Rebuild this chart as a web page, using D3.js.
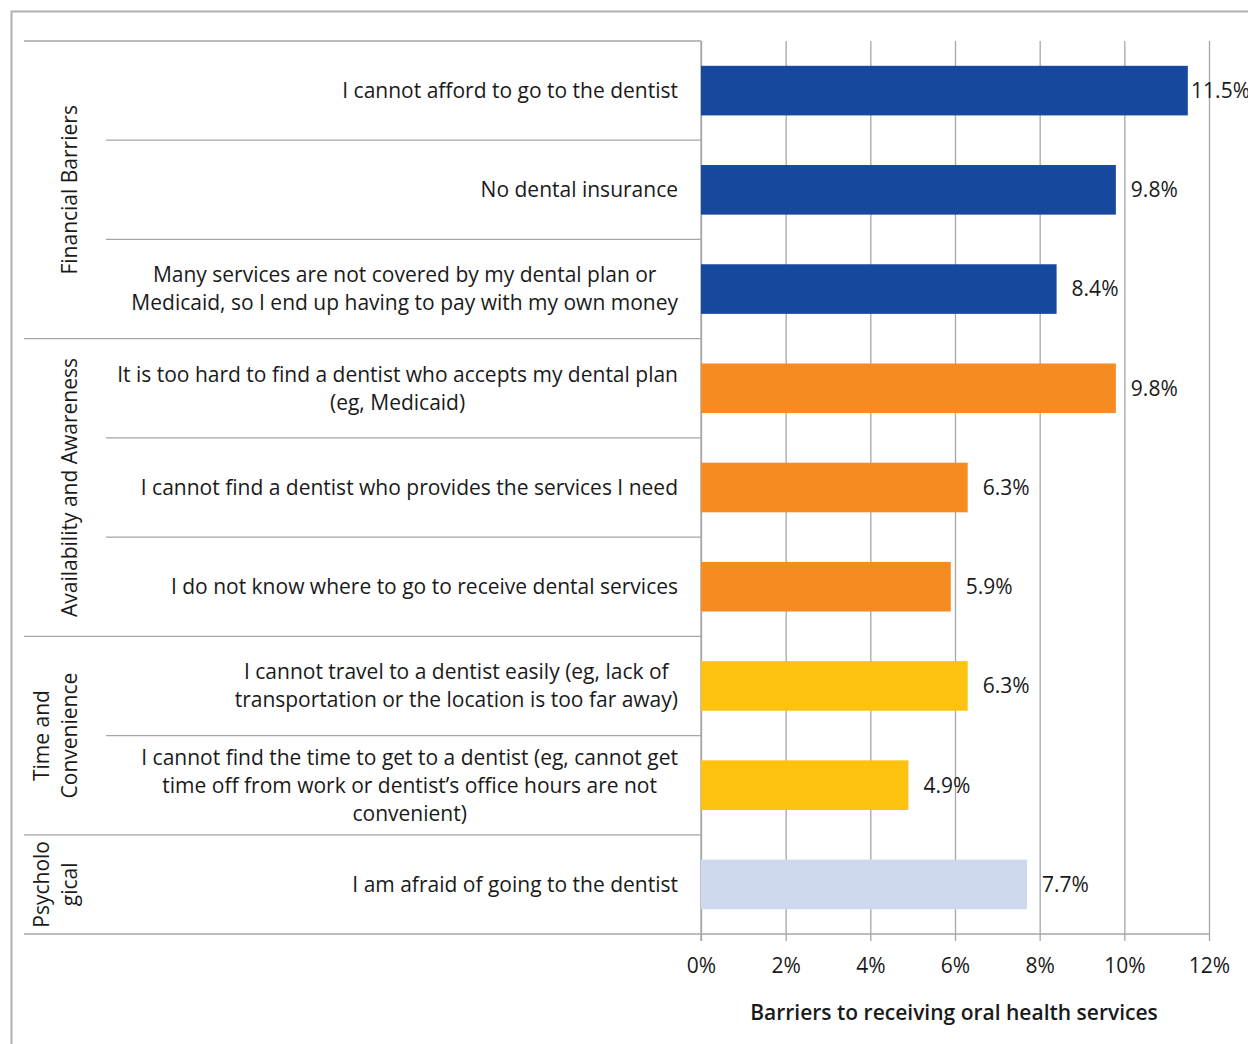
<!DOCTYPE html>
<html>
<head>
<meta charset="utf-8">
<script src="https://cdn.jsdelivr.net/npm/d3@7"></script>
<style>
  body { margin: 0; background: #fff; }
  text { font-family: "Open Sans", sans-serif; fill: #1a1a1a; }
</style>
</head>
<body>
<script>
// categories, one entry per bar ("|" marks a line break in the label)
var categories = [
  'I cannot afford to go to the dentist',
  'No dental insurance',
  'Many services are not covered by my dental plan or|Medicaid, so I end up having to pay with my own money',
  'It is too hard to find a dentist who accepts my dental plan|(eg, Medicaid)',
  'I cannot find a dentist who provides the services I need',
  'I do not know where to go to receive dental services',
  'I cannot travel to a dentist easily (eg, lack of|transportation or the location is too far away)',
  'I cannot find the time to get to a dentist (eg, cannot get|time off from work or dentist\u2019s office hours are not|convenient)',
  'I am afraid of going to the dentist'
];
var values = [11.5, 9.8, 8.4, 9.8, 6.3, 5.9, 6.3, 4.9, 7.7];
var groupOf = [0, 0, 0, 1, 1, 1, 2, 2, 3];
var groups = ['Financial Barriers', 'Availability and Awareness', 'Time and|Convenience', 'Psycholo|gical'];
var groupColors = ['#16499d', '#f68b22', '#fdc310', '#cfd9ed'];
var xTicks = [0, 2, 4, 6, 8, 10, 12];
var xTitle = 'Barriers to receiving oral health services';

var W = 1248, H = 1044;
var plotTop = 41, plotBottom = 934, x0 = 701, x1 = 1209;
var grid = '#a6a6a6';
var fs = 21;

var svg = d3.select('body').append('svg').attr('width', W).attr('height', H);

// outer frame
svg.append('path').attr('d', 'M11.5,' + H + 'V11.5H' + W).attr('fill', 'none').attr('stroke', '#b0b0b0').attr('stroke-width', 2);

var x = d3.scaleLinear().domain([0, 12]).range([x0, x1]);
var y = d3.scaleBand().domain(d3.range(categories.length)).range([plotTop, plotBottom]).paddingInner(0.5).paddingOuter(0.25);
var step = y.step();

// gridlines
svg.append('g').attr('transform', 'translate(0,' + plotTop + ')')
  .call(d3.axisBottom(x).tickValues(xTicks).tickSize(plotBottom - plotTop + 7).tickFormat(''))
  .call(function (g) {
    g.select('.domain').remove();
    g.selectAll('line').attr('stroke', grid).attr('stroke-width', 1.3);
  });

// x axis
svg.append('g').attr('transform', 'translate(0,' + plotBottom + ')')
  .call(d3.axisBottom(x).tickValues(xTicks).tickSize(0).tickPadding(24).tickFormat(function (d) { return d + '%'; }))
  .call(function (g) {
    g.select('.domain').remove();
    g.selectAll('text').attr('font-size', fs).attr('fill', '#1a1a1a').attr('font-family', '"Open Sans", sans-serif');
  });

svg.append('text').attr('x', (x0 + x1) / 2 - 1).attr('y', 1020).attr('text-anchor', 'middle')
  .attr('font-size', fs).attr('font-weight', 600).text(xTitle);

// row separators
var rowLines = d3.range(categories.length + 1);
svg.selectAll('line.row').data(rowLines).enter().append('line')
  .attr('class', 'row')
  .attr('x1', function (i) {
    if (i === 0 || i === categories.length || groupOf[i] !== groupOf[i - 1]) return 24;
    return 106;
  })
  .attr('x2', function (i) { return i === categories.length ? x1 : x0; })
  .attr('y1', function (i) { return plotTop + i * step; })
  .attr('y2', function (i) { return plotTop + i * step; })
  .attr('stroke', grid).attr('stroke-width', 1.3);

// y axis line
svg.append('line').attr('x1', x0).attr('x2', x0).attr('y1', plotTop).attr('y2', plotBottom + 7)
  .attr('stroke', grid).attr('stroke-width', 1.3);

// bars
svg.selectAll('rect.bar').data(values).enter().append('rect')
  .attr('class', 'bar')
  .attr('x', x(0))
  .attr('y', function (d, i) { return y(i); })
  .attr('width', function (d) { return x(d) - x(0); })
  .attr('height', y.bandwidth())
  .attr('fill', function (d, i) { return groupColors[groupOf[i]]; });

// value labels
svg.selectAll('text.val').data(values).enter().append('text')
  .attr('class', 'val')
  .attr('y', function (d, i) { return y(i) + y.bandwidth() / 2; })
  .attr('dy', '0.35em')
  .attr('font-size', fs)
  .text(function (d) { return d.toFixed(1) + '%'; })
  .attr('x', function (d) {
    var w = this.getComputedTextLength();
    return Math.min(x(d) + 15, W - w + 2);
  });

// category labels
var lh = 28;
svg.selectAll('text.cat').data(categories).enter().append('text')
  .attr('class', 'cat')
  .attr('font-size', fs)
  .each(function (d, i) {
    var lines = d.split('|');
    var t = d3.select(this);
    var cy = y(i) + y.bandwidth() / 2;
    lines.forEach(function (l, k) {
      t.append('tspan').attr('x', 678).attr('text-anchor', 'end')
        .attr('y', cy + (k - (lines.length - 1) / 2) * lh).attr('dy', '0.35em').text(l);
    });
  });

// wrapped labels are centred on their widest line, which is right-aligned
svg.selectAll('text.cat').each(function (d) {
  if (d.split('|').length === 1) return;
  var t = d3.select(this);
  var ws = [];
  t.selectAll('tspan').each(function () { ws.push(this.getComputedTextLength()); });
  var cx = 678 - d3.max(ws) / 2;
  t.selectAll('tspan').attr('text-anchor', 'middle').attr('x', cx);
});

// group labels
groups.forEach(function (g, gi) {
  var idx = groupOf.map(function (v, i) { return v === gi ? i : -1; }).filter(function (i) { return i >= 0; });
  var yc = plotTop + (idx[0] + idx[idx.length - 1] + 1) / 2 * step;
  var lines = g.split('|');
  var t = svg.append('text').attr('text-anchor', 'middle').attr('font-size', fs)
    .attr('transform', 'translate(0,' + yc + ') rotate(-90)');
  lines.forEach(function (l, k) {
    var xc = 70 - (lines.length - 1 - k) * lh;
    t.append('tspan').attr('x', 0).attr('y', xc).attr('dy', '0.35em').text(l);
  });
});
</script>
</body>
</html>
